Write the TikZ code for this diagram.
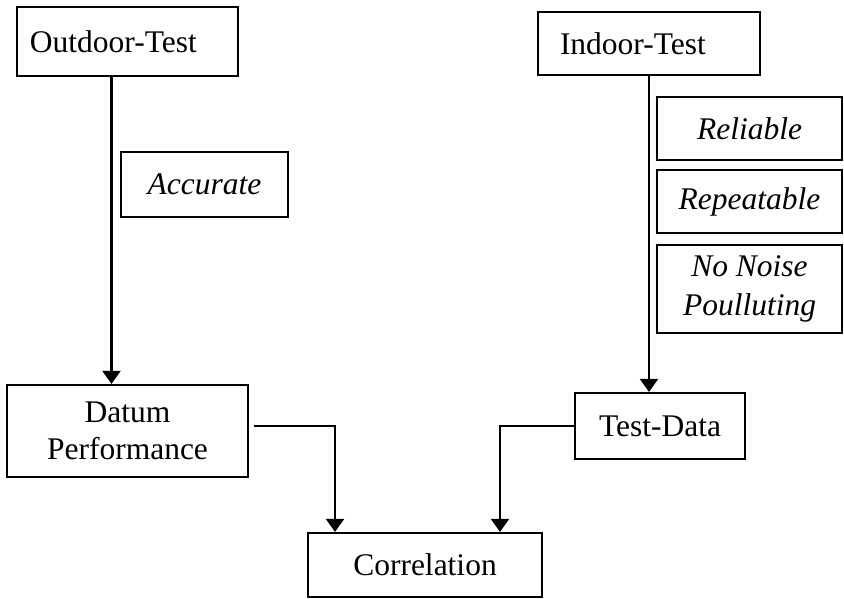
\documentclass[tikz,border=0pt]{standalone}
\usepackage{fontspec}
\setmainfont{Liberation Serif}
\usetikzlibrary{arrows.meta}
\begin{document}
\begin{tikzpicture}[x=1pt,y=-1pt,
  box/.style={draw, line width=2.2pt, inner sep=0pt, align=center,
    font=\fontsize{31.5}{37}\selectfont},
  lbox/.style={box, align=left},
  tag/.style={box, font=\fontsize{31.5}{39}\selectfont\itshape},
  arr/.style={line width=2.2pt, -{Triangle[width=18pt,length=13pt]}}]
\useasboundingbox (0,0) rectangle (844,599);

% left branch
\node[lbox, minimum width=221pt, minimum height=69pt, text width=195pt, inner xsep=13pt] (out) at (127.5,41.5) {Outdoor-Test};
\node[tag, minimum width=167pt, minimum height=65pt] (acc) at (204.5,184.5) {Accurate};
\node[box, minimum width=241pt, minimum height=92pt] (dat) at (127.5,431) {Datum\\Performance};

% right branch
\node[lbox, minimum width=222pt, minimum height=63pt, text width=178pt, inner xsep=22pt] (in) at (649,43.5) {Indoor-Test};
\node[tag, minimum width=185pt, minimum height=63pt] (rel) at (749.5,128.5) {Reliable};
\node[tag, minimum width=185pt, minimum height=63pt] (rep) at (749.5,201.5) {Repeatable};
\node[tag, minimum width=185pt, minimum height=88pt] (noi) at (749.5,289) {No Noise\\Poulluting};
\node[box, minimum width=170pt, minimum height=66pt] (td) at (660,426) {Test-Data};

% result
\node[box, minimum width=234pt, minimum height=64pt] (corr) at (425,565) {Correlation};

% connectors
\draw[arr] ([xshift=-16pt]out.south) -- ([xshift=-16pt]out.south |- dat.north);
\draw[arr] (in.south) -- (in.south |- td.north);
\draw[arr] ([xshift=5pt,yshift=5pt]dat.east) -| ([xshift=-90pt]corr.north);
\draw[arr] (td.west) -| ([xshift=75pt]corr.north);
\end{tikzpicture}
\end{document}
